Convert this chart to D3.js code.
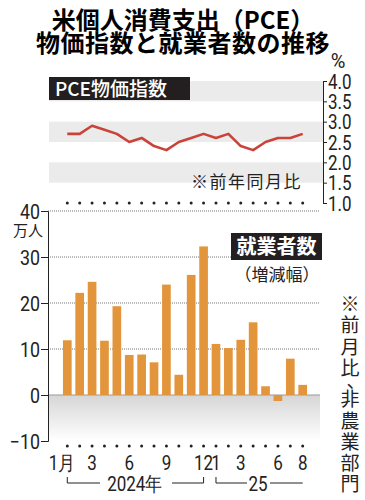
<!DOCTYPE html>
<html>
<head>
<meta charset="utf-8">
<title>米個人消費支出（PCE）物価指数と就業者数の推移</title>
<style>
	html, body { margin:0; padding:0; background:#fff; }
	svg { display:block; font-family: "Noto Sans CJK JP", "Noto Sans", sans-serif; }
	.num { font-family: Roboto, "Liberation Sans", sans-serif; font-size: 20px; fill:#222; }
</style>
<script src="https://d3js.org/d3.v7.min.js"></script>
</head>
<body>
<svg id="chart" width="365" height="500"></svg>
<script>

//data
var months = ["2024-01","2024-02","2024-03","2024-04","2024-05","2024-06","2024-07","2024-08","2024-09","2024-10","2024-11","2024-12",
	"2025-01","2025-02","2025-03","2025-04","2025-05","2025-06","2025-07","2025-08"];
var monthLabels = ["1月","","3","","","6","","","9","","","12","1","","3","","","6","","8"];
var pce = [2.7,2.7,2.9,2.8,2.7,2.5,2.6,2.4,2.3,2.5,2.6,2.7,2.6,2.7,2.4,2.3,2.5,2.6,2.6,2.7];
var jobs = [11.9,22.2,24.6,11.8,19.3,8.7,8.8,7.1,24.0,4.4,26.1,32.3,11.1,10.2,12.0,15.8,1.9,-1.3,7.9,2.2];
var pceTicks = [1.0,1.5,2.0,2.5,3.0,3.5,4.0];
var pceBands = [[3.5,4.0],[2.5,3.0],[1.5,2.0]];
var jobTicks = [-10,0,10,20,30,40];
var noteChars = ["※","前","月","比","、","非","農","業","部","門"];

var svg = d3.select("#chart");

//title
svg.append("text").attr("x",183).attr("y",29).attr("text-anchor","middle")
	.style("font-size","24px").style("font-weight","bold").text("米個人消費支出（PCE）");
svg.append("text").attr("x",183).attr("y",52).attr("text-anchor","middle")
	.style("font-size","24px").style("font-weight","bold").style("letter-spacing","0.5px").text("物価指数と就業者数の推移");

//shared x scale
var x = d3.scaleBand().domain(months).range([61.1, 308.9]).paddingInner(0.3).paddingOuter(0.15);
var cx = function(m){ return x(m) + x.bandwidth()/2; };

//---------- PCE panel
var y1 = d3.scaleLinear().domain([1,4]).range([203,81]);
var gTop = svg.append("g");

gTop.selectAll("rect.band").data(pceBands).enter().append("rect")
	.attr("x",49).attr("width",274)
	.attr("y",function(d){ return y1(d[1]); })
	.attr("height",function(d){ return y1(d[0]) - y1(d[1]); })
	.attr("fill","#ebebeb");

//right axis
var ax1 = gTop.append("g").attr("transform","translate(323,0)")
	.call(d3.axisRight(y1).tickValues(pceTicks).tickSize(4).tickFormat(d3.format(".1f")));
ax1.select(".domain").attr("stroke","#222");
ax1.selectAll(".tick line").attr("stroke","#222");
ax1.selectAll(".tick text").attr("x",0).attr("dy","0.36em")
	.attr("class","num").attr("fill","#222")
	.attr("transform","translate(5,0) scale(0.85,1)");
gTop.append("text").attr("x",338).attr("y",68).attr("text-anchor","middle").attr("class","num").text("%");

//line
gTop.append("path").datum(pce)
	.attr("fill","none").attr("stroke","#c9433b").attr("stroke-width",2.6).attr("stroke-linejoin","round")
	.attr("d", d3.line().x(function(d,i){ return cx(months[i]); }).y(function(d){ return y1(d); }));

//label box
gTop.append("rect").attr("x",49).attr("y",77).attr("width",141).attr("height",23).attr("fill","#231f20");
gTop.append("text").attr("x",55).attr("y",95.5).attr("fill","#fff")
	.style("font-size","19px").style("font-weight","500").text("PCE物価指数");
gTop.append("text").attr("x",302).attr("y",188).attr("text-anchor","end")
	.style("font-size","17px").style("letter-spacing","1.5px").attr("fill","#222").text("※前年同月比");

//---------- jobs panel
var y2 = d3.scaleLinear().domain([-10,40]).range([441,211]);
var gBot = svg.append("g");

var grad = svg.append("defs").append("linearGradient").attr("id","neg").attr("x1",0).attr("x2",0).attr("y1",0).attr("y2",1);
grad.append("stop").attr("offset","0%").attr("stop-color","#d6d6d6");
grad.append("stop").attr("offset","100%").attr("stop-color","#ffffff");
gBot.append("rect").attr("x",48).attr("width",272).attr("y",y2(0)).attr("height",y2(-10)-y2(0)).attr("fill","url(#neg)");

//grid
gBot.selectAll("line.grid").data(jobTicks.filter(function(d){ return d > 0; })).enter().append("line")
	.attr("x1",48).attr("x2",320).attr("y1",function(d){ return y2(d); }).attr("y2",function(d){ return y2(d); })
	.attr("stroke","#777").attr("stroke-width",1).attr("stroke-dasharray","1,1");
gBot.append("line").attr("x1",48).attr("x2",320).attr("y1",y2(0)).attr("y2",y2(0)).attr("stroke","#999");

//bars
gBot.selectAll("rect.bar").data(jobs).enter().append("rect")
	.attr("x",function(d,i){ return x(months[i]); })
	.attr("width",x.bandwidth())
	.attr("y",function(d){ return y2(Math.max(0,d)); })
	.attr("height",function(d){ return Math.abs(y2(d) - y2(0)); })
	.attr("fill","#e3953b");

//left axis
var ax2 = gBot.append("g").attr("transform","translate(48,0)")
	.call(d3.axisLeft(y2).tickValues(jobTicks).tickSize(7).tickFormat(function(d){ return d < 0 ? "−" + (-d) : d; }));
ax2.select(".domain").attr("stroke","#222");
ax2.selectAll(".tick line").attr("stroke","#222");
ax2.selectAll(".tick text").attr("x",0).attr("dy","0.36em")
	.attr("class","num").attr("fill","#222").attr("text-anchor","end")
	.style("font-size","21px")
	.attr("transform","translate(-8,0) scale(0.85,1)");
gBot.append("text").attr("x",28).attr("y",236).attr("text-anchor","middle")
	.style("font-size","15px").attr("fill","#222").text("万人");

//dotted rows
[203, 446].forEach(function(yy){
	gBot.selectAll(null).data(months).enter().append("circle")
		.attr("cx",cx).attr("cy",yy).attr("r",1.5).attr("fill","#222");
});

//month labels
gBot.selectAll("text.m").data(monthLabels).enter().append("text")
	.attr("class","num")
	.attr("text-anchor","middle")
	.attr("transform",function(d,i){ return "translate(" + (cx(months[i]) + (i === 0 ? -5 : 0)) + ",470) scale(0.85,1)"; })
	.text(function(d){ return d; });

//year brackets
var yb = 483;
var br = gBot.append("g").attr("stroke","#222").attr("fill","none");
br.append("path").attr("d","M" + cx(months[0]) + "," + (yb-6) + "V" + yb + "H100");
br.append("path").attr("d","M172," + yb + "H" + cx(months[11]) + "V" + (yb-6));
br.append("path").attr("d","M" + cx(months[12]) + "," + (yb-6) + "V" + yb + "H247");
br.append("path").attr("d","M270," + yb + "H" + cx(months[19]));
gBot.append("text").attr("class","num").attr("text-anchor","middle")
	.attr("transform","translate(135,491) scale(0.85,1)").text("2024年");
gBot.append("text").attr("class","num").attr("text-anchor","middle")
	.attr("transform","translate(258,491) scale(0.85,1)").text("25");

//label box
gBot.append("rect").attr("x",231).attr("y",233).attr("width",91).attr("height",27).attr("fill","#231f20");
gBot.append("text").attr("x",276.5).attr("y",254).attr("text-anchor","middle").attr("fill","#fff")
	.style("font-size","20px").style("font-weight","bold").text("就業者数");
gBot.append("text").attr("x",277).attr("y",281).attr("text-anchor","middle").attr("fill","#222")
	.style("font-size","17px").text("（増減幅）");

//vertical note, one character per cell, the comma takes a half cell
var ny = 297;
noteChars.forEach(function(c){
	var half = (c === "、");
	gBot.append("text").attr("x", half ? 356 : 350).attr("y", half ? ny + 6 : ny + 14)
		.attr("text-anchor","middle").style("font-size","19px").attr("fill","#222").text(c);
	ny += half ? 10 : 21.3;
});

</script>
</body>
</html>
